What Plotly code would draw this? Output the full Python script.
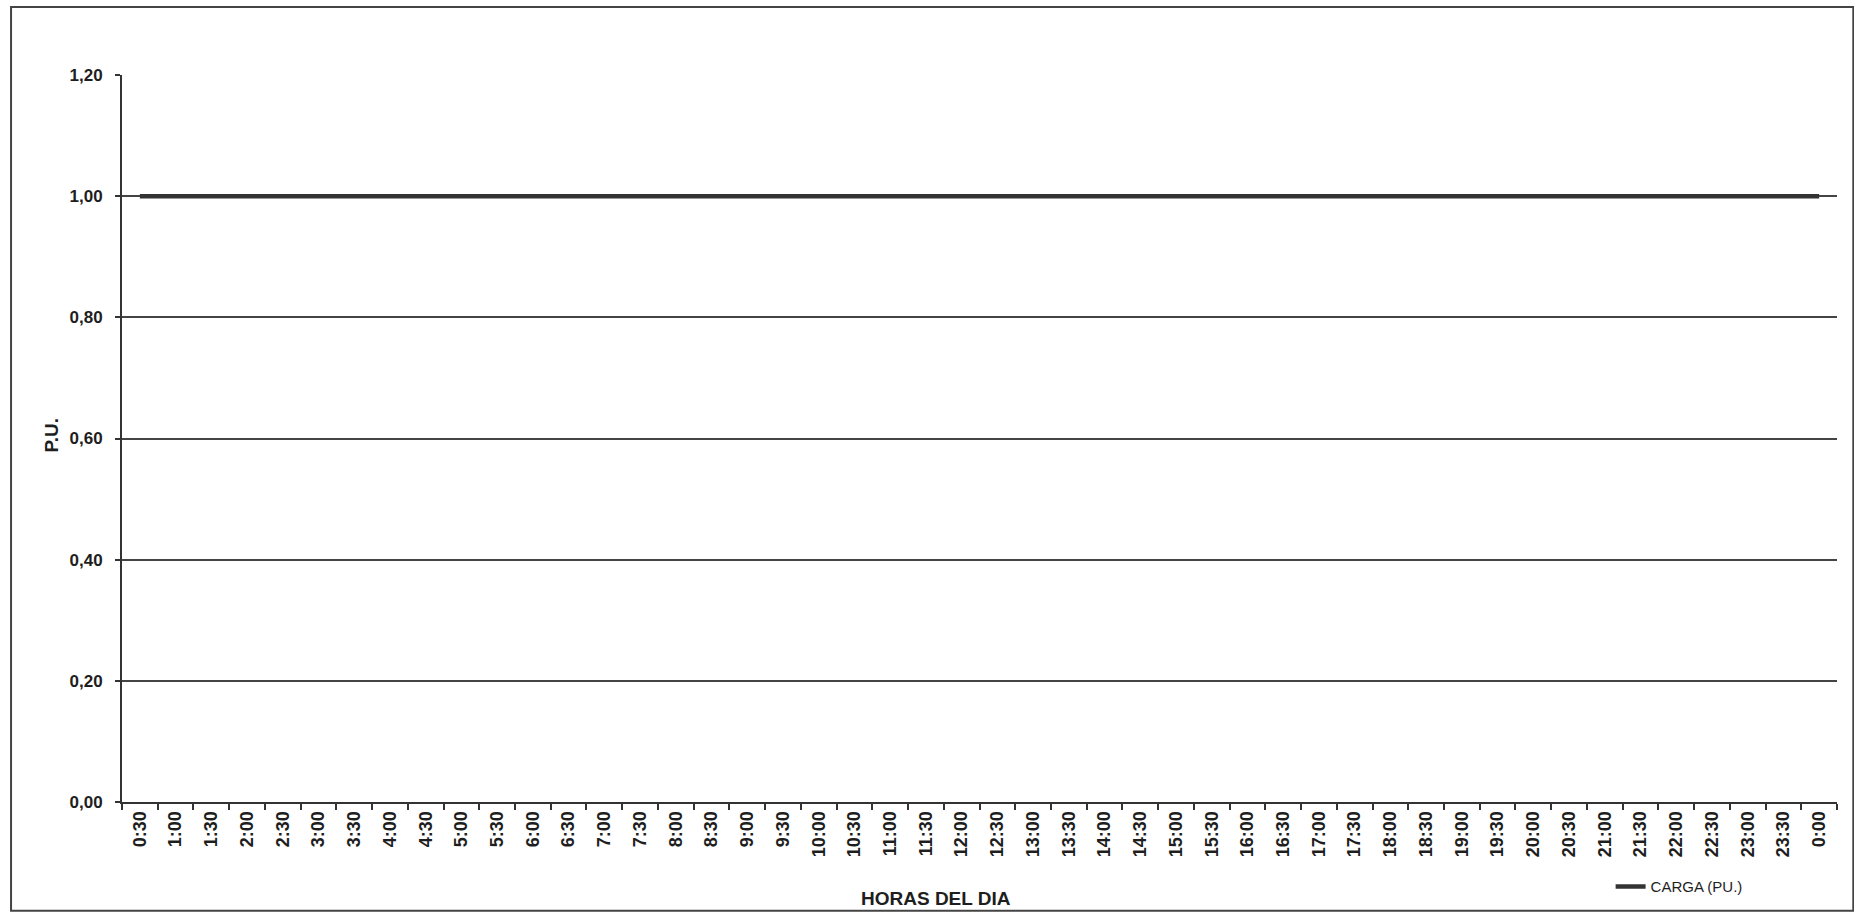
import plotly.graph_objects as go

horas = ["0:30", "1:00", "1:30", "2:00", "2:30", "3:00", "3:30", "4:00", "4:30", "5:00",
         "5:30", "6:00", "6:30", "7:00", "7:30", "8:00", "8:30", "9:00", "9:30", "10:00",
         "10:30", "11:00", "11:30", "12:00", "12:30", "13:00", "13:30", "14:00", "14:30", "15:00",
         "15:30", "16:00", "16:30", "17:00", "17:30", "18:00", "18:30", "19:00", "19:30", "20:00",
         "20:30", "21:00", "21:30", "22:00", "22:30", "23:00", "23:30", "0:00"]

carga_pu = [1.00, 1.00, 1.00, 1.00, 1.00, 1.00, 1.00, 1.00, 1.00, 1.00,
            1.00, 1.00, 1.00, 1.00, 1.00, 1.00, 1.00, 1.00, 1.00, 1.00,
            1.00, 1.00, 1.00, 1.00, 1.00, 1.00, 1.00, 1.00, 1.00, 1.00,
            1.00, 1.00, 1.00, 1.00, 1.00, 1.00, 1.00, 1.00, 1.00, 1.00,
            1.00, 1.00, 1.00, 1.00, 1.00, 1.00, 1.00, 1.00]

y_ticks = [0.0, 0.2, 0.4, 0.6, 0.8, 1.0, 1.2]

INK = "#333333"
TXT = "#1e1e1e"
FONT = "Liberation Sans, Arial, sans-serif"

fig = go.Figure()
fig.add_trace(go.Scatter(
    x=horas, y=carga_pu, mode="lines", name="CARGA (PU.)",
    line=dict(color=INK, width=4.5),
))

fig.update_layout(
    width=1854, height=914,
    margin=dict(l=122, r=17, t=75, b=111),
    paper_bgcolor="white", plot_bgcolor="white",
    separators=",.",
    font=dict(family=FONT, color=TXT),
    showlegend=True,
    legend=dict(
        x=0.868, y=-0.115, xanchor="left", yanchor="middle",
        font=dict(family="Liberation Sans Narrow, Liberation Sans, sans-serif", size=15, color=TXT),
        bgcolor="rgba(0,0,0,0)", borderwidth=0,
    ),
    xaxis=dict(
        type="category",
        range=[-0.5, len(horas) - 0.5],
        tickangle=-90,
        tickfont=dict(family=FONT, size=18, weight="bold", color=TXT),
        ticks="outside", tickson="boundaries", ticklen=6, tickwidth=1.5, tickcolor=INK,
        showline=True, linecolor=INK, linewidth=2,
        showgrid=False, zeroline=False,
        automargin=False,
    ),
    yaxis=dict(
        range=[0, 1.2],
        tickvals=y_ticks,
        tickformat=".2f",
        tickfont=dict(family=FONT, size=17, weight="bold", color=TXT),
        ticks="outside", ticklen=5, tickwidth=1.5, tickcolor=INK,
        ticklabelstandoff=9,
        showline=True, linecolor=INK, linewidth=2,
        showgrid=True, gridcolor="#444444", gridwidth=2,
        zeroline=False,
        automargin=False,
    ),
    annotations=[
        dict(text="<b>HORAS DEL DIA</b>", xref="paper", yref="paper",
             x=(936 - 122) / 1715, y=(803 - 900) / 728, xanchor="center", yanchor="middle",
             showarrow=False, font=dict(family=FONT, size=19, color=TXT)),
        dict(text="<b>P.U.</b>", xref="paper", yref="paper", textangle=-90,
             x=(52 - 122) / 1715, y=(803 - 436) / 728, xanchor="center", yanchor="middle",
             showarrow=False, font=dict(family=FONT, size=19, color=TXT)),
    ],
    shapes=[dict(
        type="rect", xref="paper", yref="paper",
        x0=-0.0647, x1=1.0095, y0=-0.1497, y1=1.0934,
        line=dict(color="#444444", width=2), fillcolor="rgba(0,0,0,0)", layer="below",
    )],
)

fig.write_html("out.html", config={"displayModeBar": False},
               post_script="document.body.style.margin='0';document.body.style.overflow='hidden';")
